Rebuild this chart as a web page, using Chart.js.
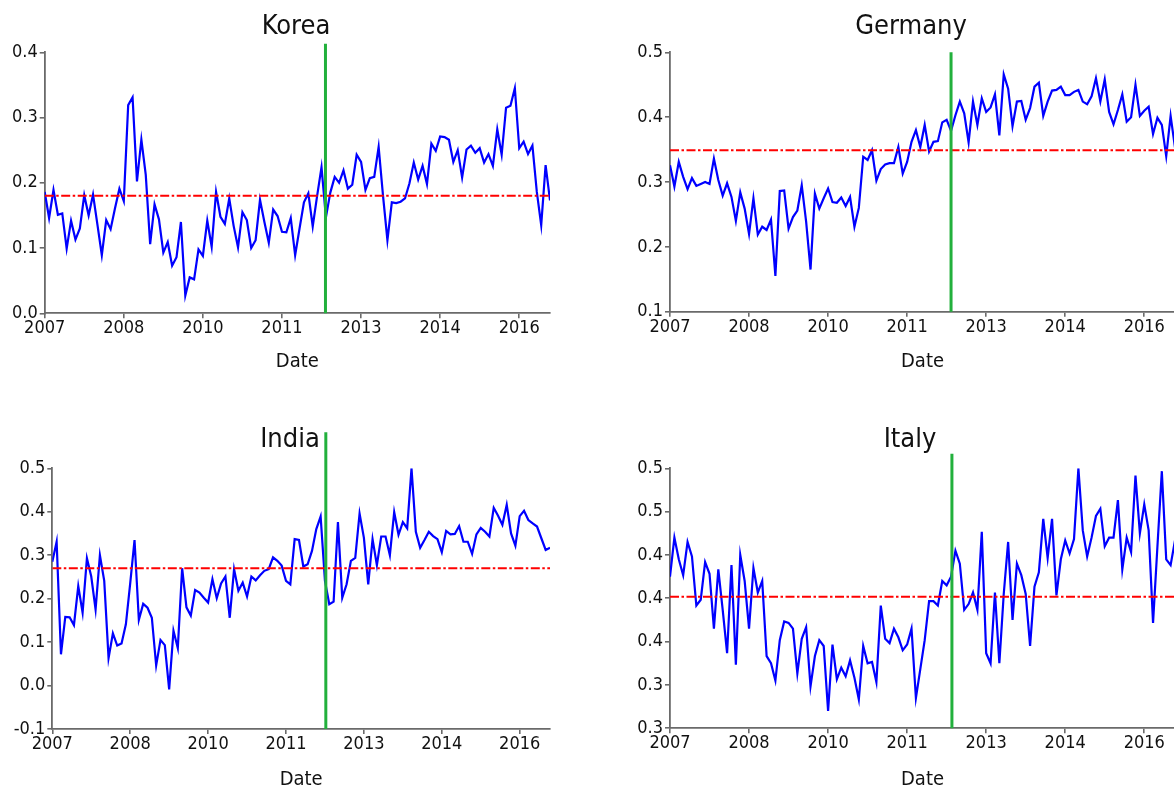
<!DOCTYPE html>
<html>
<head>
<meta charset="utf-8">
<title>Monthly series by country, 2007–2016</title>
<script src="https://cdn.jsdelivr.net/npm/chart.js@4.4.1/dist/chart.umd.min.js"></script>
<style>
  html, body { margin: 0; padding: 0; background: #ffffff; overflow: hidden; }
  #wrap { position: relative; width: 1174px; height: 794px; overflow: hidden; background: #ffffff; }
  #wrap canvas { position: absolute; }
</style>
</head>
<body>
<div id="wrap"></div>
<script>
// ---------------------------------------------------------------------------
// Data: monthly observations starting January 2007 (index 0 = Jan 2007)
// ---------------------------------------------------------------------------
const xTickMonths = [0, 18, 36, 54, 72, 90, 108];
const xTickLabels = ['2007', '2008', '2010', '2011', '2013', '2014', '2016'];
const lastMonth = 115;

const koreaValues = [
  0.186, 0.146, 0.189, 0.151, 0.153, 0.099, 0.142, 0.113, 0.130, 0.181,
  0.150, 0.182, 0.136, 0.089, 0.143, 0.129, 0.161, 0.191, 0.172, 0.319,
  0.331, 0.202, 0.266, 0.212, 0.106, 0.167, 0.144, 0.093, 0.109, 0.073,
  0.086, 0.140, 0.027, 0.055, 0.052, 0.098, 0.088, 0.142, 0.102, 0.186,
  0.148, 0.137, 0.176, 0.134, 0.101, 0.155, 0.143, 0.100, 0.112, 0.174,
  0.140, 0.108, 0.159, 0.149, 0.125, 0.124, 0.146, 0.089, 0.130, 0.170,
  0.184, 0.133, 0.180, 0.224, 0.147, 0.185, 0.209, 0.200, 0.219, 0.191,
  0.197, 0.243, 0.232, 0.189, 0.207, 0.209, 0.255, 0.180, 0.112, 0.170,
  0.169, 0.171, 0.176, 0.199, 0.231, 0.205, 0.226, 0.198, 0.260, 0.249,
  0.271, 0.270, 0.266, 0.232, 0.250, 0.208, 0.251, 0.257, 0.246, 0.253,
  0.231, 0.244, 0.226, 0.282, 0.243, 0.315, 0.318, 0.345, 0.253, 0.263,
  0.244, 0.257, 0.186, 0.135, 0.227, 0.173
];

const germanyValues = [
  0.326, 0.293, 0.331, 0.308, 0.289, 0.306, 0.294, 0.297, 0.300, 0.297,
  0.336, 0.303, 0.279, 0.298, 0.277, 0.240, 0.284, 0.259, 0.220, 0.275,
  0.219, 0.231, 0.226, 0.242, 0.155, 0.286, 0.287, 0.228, 0.246, 0.256,
  0.295, 0.239, 0.165, 0.282, 0.259, 0.275, 0.290, 0.269, 0.268, 0.276,
  0.263, 0.277, 0.231, 0.260, 0.339, 0.334, 0.349, 0.302, 0.320, 0.327,
  0.329, 0.329, 0.354, 0.313, 0.331, 0.362, 0.380, 0.354, 0.388, 0.347,
  0.362, 0.363, 0.392, 0.396, 0.379, 0.403, 0.424, 0.406, 0.361, 0.424,
  0.388, 0.429, 0.408, 0.415, 0.435, 0.372, 0.466, 0.444, 0.386, 0.424,
  0.425, 0.396, 0.414, 0.447, 0.453, 0.402, 0.424, 0.441, 0.442, 0.447,
  0.434, 0.434, 0.439, 0.442, 0.424, 0.420, 0.432, 0.460, 0.424, 0.458,
  0.408, 0.389, 0.411, 0.435, 0.393, 0.400, 0.450, 0.402, 0.410, 0.416,
  0.374, 0.399, 0.388, 0.340, 0.402, 0.353
];

const indiaValues = [
  0.285, 0.331, 0.072, 0.158, 0.157, 0.139, 0.229, 0.168, 0.293, 0.251,
  0.175, 0.300, 0.241, 0.063, 0.120, 0.092, 0.097, 0.141, 0.235, 0.335,
  0.151, 0.188, 0.179, 0.156, 0.046, 0.105, 0.093, -0.009, 0.126, 0.086,
  0.270, 0.180, 0.161, 0.220, 0.214, 0.202, 0.191, 0.245, 0.201, 0.235,
  0.251, 0.156, 0.268, 0.218, 0.237, 0.205, 0.251, 0.242, 0.254, 0.264,
  0.268, 0.295, 0.287, 0.276, 0.241, 0.233, 0.337, 0.335, 0.274, 0.279,
  0.310, 0.360, 0.389, 0.241, 0.187, 0.193, 0.376, 0.202, 0.233, 0.287,
  0.294, 0.396, 0.340, 0.233, 0.337, 0.277, 0.343, 0.343, 0.300, 0.399,
  0.347, 0.376, 0.362, 0.500, 0.354, 0.317, 0.335, 0.354, 0.344, 0.337,
  0.307, 0.356, 0.348, 0.349, 0.367, 0.331, 0.331, 0.303, 0.348, 0.363,
  0.354, 0.343, 0.409, 0.391, 0.370, 0.416, 0.350, 0.322, 0.390, 0.402,
  0.381, 0.373, 0.366, 0.339, 0.312, 0.317
];

const italyValues = [
  0.405, 0.432, 0.417, 0.406, 0.429, 0.419, 0.385, 0.389, 0.415, 0.407,
  0.369, 0.410, 0.382, 0.352, 0.413, 0.344, 0.420, 0.402, 0.369, 0.411,
  0.394, 0.402, 0.350, 0.345, 0.333, 0.361, 0.374, 0.373, 0.369, 0.338,
  0.362, 0.370, 0.329, 0.350, 0.361, 0.357, 0.312, 0.358, 0.334, 0.342,
  0.336, 0.347, 0.335, 0.320, 0.357, 0.345, 0.346, 0.332, 0.385, 0.362,
  0.359, 0.369, 0.363, 0.354, 0.358, 0.369, 0.321, 0.341, 0.361, 0.388,
  0.388, 0.385, 0.402, 0.399, 0.405, 0.423, 0.414, 0.382, 0.386, 0.394,
  0.382, 0.436, 0.352, 0.345, 0.394, 0.345, 0.393, 0.429, 0.375, 0.414,
  0.406, 0.393, 0.357, 0.398, 0.408, 0.445, 0.418, 0.445, 0.392, 0.417,
  0.430, 0.421, 0.431, 0.480, 0.437, 0.419, 0.432, 0.447, 0.452, 0.426,
  0.432, 0.432, 0.458, 0.410, 0.432, 0.422, 0.475, 0.435, 0.455, 0.437,
  0.373, 0.426, 0.478, 0.417, 0.413, 0.430
];

// Long-run mean level (dash-dot line) per country
const meanLevels = { Korea: 0.180, Germany: 0.349, India: 0.270, Italy: 0.391 };

// Structural break (vertical line): month index, and the value its top reaches
const breakMonths = { Korea: 63.9, Germany: 64.0, India: 63.2, Italy: 64.2 };
const breakTops   = { Korea: 0.413, Germany: 0.500, India: 0.583, Italy: 0.490 };

// y-axis ticks and their printed labels
const koreaYTicks   = [0.0, 0.1, 0.2, 0.3, 0.4];
const koreaYLabels  = ['0.0', '0.1', '0.2', '0.3', '0.4'];
const germanyYTicks  = [0.1, 0.2, 0.3, 0.4, 0.5];
const germanyYLabels = ['0.1', '0.2', '0.3', '0.4', '0.5'];
const indiaYTicks   = [-0.1, 0.0, 0.1, 0.2, 0.3, 0.4, 0.5];
const indiaYLabels  = ['-0.1', '0.0', '0.1', '0.2', '0.3', '0.4', '0.5'];
const italyYTicks   = [0.30, 0.33, 0.36, 0.39, 0.42, 0.45, 0.48];
const italyYLabels  = ['0.3', '0.3', '0.4', '0.4', '0.4', '0.5', '0.5'];

// ---------------------------------------------------------------------------
// Drawing
// ---------------------------------------------------------------------------
const FONT = '"DejaVu Sans Condensed", "DejaVu Sans", sans-serif';
Chart.defaults.font.family = FONT;

const AXIS_COLOR = '#6a6a6a';
const TEXT_COLOR = '#111111';
const TICK_SIZE = 18;

// Panel title drawn at a fixed point of its canvas
const panelTitle = {
  id: 'panelTitle',
  afterDraw(chart, args, opts) {
    const ctx = chart.ctx;
    ctx.save();
    ctx.font = opts.size + 'px ' + FONT;
    ctx.fillStyle = TEXT_COLOR;
    ctx.textAlign = 'center';
    ctx.textBaseline = 'alphabetic';
    ctx.fillText(opts.text, opts.x, opts.y);
    ctx.restore();
  }
};

const panels = [
  { name: 'Korea',   values: koreaValues,   yTicks: koreaYTicks,   yLabels: koreaYLabels,
    box: { left: 0,   top: 0,   w: 587, h: 397 }, area: { l: 44.7, t: 52.3,  r: 550,  b: 313.3 },
    title: { x: 296, y: 34 },  dateY: 362 },
  { name: 'Germany', values: germanyValues, yTicks: germanyYTicks, yLabels: germanyYLabels,
    box: { left: 587, top: 0,   w: 600, h: 397 }, area: { l: 670,  t: 52.3,  r: 1175, b: 311.7 },
    title: { x: 911, y: 34 },  dateY: 362 },
  { name: 'India',   values: indiaValues,   yTicks: indiaYTicks,   yLabels: indiaYLabels,
    box: { left: 0,   top: 397, w: 587, h: 397 }, area: { l: 52.3, t: 468.3, r: 550,  b: 729 },
    title: { x: 290, y: 447 }, dateY: 780 },
  { name: 'Italy',   values: italyValues,   yTicks: italyYTicks,   yLabels: italyYLabels,
    box: { left: 587, top: 397, w: 600, h: 397 }, area: { l: 670,  t: 468.3, r: 1175, b: 728.3 },
    title: { x: 910, y: 447 }, dateY: 780 }
];

const wrap = document.getElementById('wrap');
const DATE_SIZE = 20;
const DATE_LINE = 1.2;

panels.forEach(function (p) {
  const canvas = document.createElement('canvas');
  canvas.width = p.box.w;
  canvas.height = p.box.h;
  canvas.style.left = p.box.left + 'px';
  canvas.style.top = p.box.top + 'px';
  canvas.style.width = p.box.w + 'px';
  canvas.style.height = p.box.h + 'px';
  wrap.appendChild(canvas);

  const series = p.values.map(function (v, i) { return { x: i, y: v }; });
  const meanLine = [{ x: 0, y: meanLevels[p.name] }, { x: lastMonth, y: meanLevels[p.name] }];
  const breakLine = [{ x: breakMonths[p.name], y: p.yTicks[0] }, { x: breakMonths[p.name], y: breakTops[p.name] }];

  const yW = p.area.l - p.box.left;
  const xH = p.box.top + p.box.h - p.area.b;
  const datePadBottom = (p.box.top + p.box.h) - p.dateY - DATE_SIZE * DATE_LINE / 2;

  new Chart(canvas, {
    type: 'line',
    data: {
      datasets: [
        { label: 'break', data: breakLine, borderColor: '#22b03c', borderWidth: 3,
          pointRadius: 0, clip: false, order: 0 },
        { label: 'mean', data: meanLine, borderColor: '#ff0000', borderWidth: 2,
          borderDash: [9, 2.5, 2.5, 2.5], pointRadius: 0, order: 1 },
        { label: p.name, data: series, borderColor: '#0000ff', borderWidth: 2.2,
          pointRadius: 0, tension: 0, order: 2 }
      ]
    },
    options: {
      responsive: false,
      animation: false,
      events: [],
      layout: {
        padding: {
          left: 0,
          top: p.area.t - p.box.top,
          right: p.box.left + p.box.w - p.area.r,
          bottom: 0
        }
      },
      plugins: {
        legend: { display: false },
        tooltip: { enabled: false },
        title: { display: false },
        panelTitle: { text: p.name, x: p.title.x - p.box.left, y: p.title.y - p.box.top, size: 27 }
      },
      scales: {
        x: {
          type: 'linear',
          bounds: 'data',
          min: 0,
          max: lastMonth,
          afterBuildTicks: function (s) { s.ticks = xTickMonths.map(function (v) { return { value: v }; }); },
          afterFit: function (s) { s.height = xH; },
          ticks: {
            autoSkip: false, maxRotation: 0, padding: 0,
            color: TEXT_COLOR, font: { size: TICK_SIZE, lineHeight: 1.15 },
            callback: function (v, i) { return xTickLabels[i]; }
          },
          grid: { drawOnChartArea: false, drawTicks: true, tickLength: 5, color: AXIS_COLOR, lineWidth: 1.6 },
          border: { display: true, color: AXIS_COLOR, width: 1.8 },
          title: {
            display: true, text: 'Date', color: TEXT_COLOR,
            font: { size: DATE_SIZE, lineHeight: DATE_LINE },
            padding: { top: 0, bottom: datePadBottom }
          }
        },
        y: {
          type: 'linear',
          min: p.yTicks[0],
          max: p.yTicks[p.yTicks.length - 1],
          afterBuildTicks: function (s) { s.ticks = p.yTicks.map(function (v) { return { value: v }; }); },
          afterFit: function (s) { s.width = yW; },
          ticks: {
            autoSkip: false, padding: 2,
            color: TEXT_COLOR, font: { size: TICK_SIZE, lineHeight: 1.2 },
            callback: function (v, i) { return p.yLabels[i]; }
          },
          grid: { drawOnChartArea: false, drawTicks: true, tickLength: 5, color: AXIS_COLOR, lineWidth: 1.6 },
          border: { display: true, color: AXIS_COLOR, width: 1.8 }
        }
      }
    },
    plugins: [panelTitle]
  });
});
</script>
</body>
</html>
